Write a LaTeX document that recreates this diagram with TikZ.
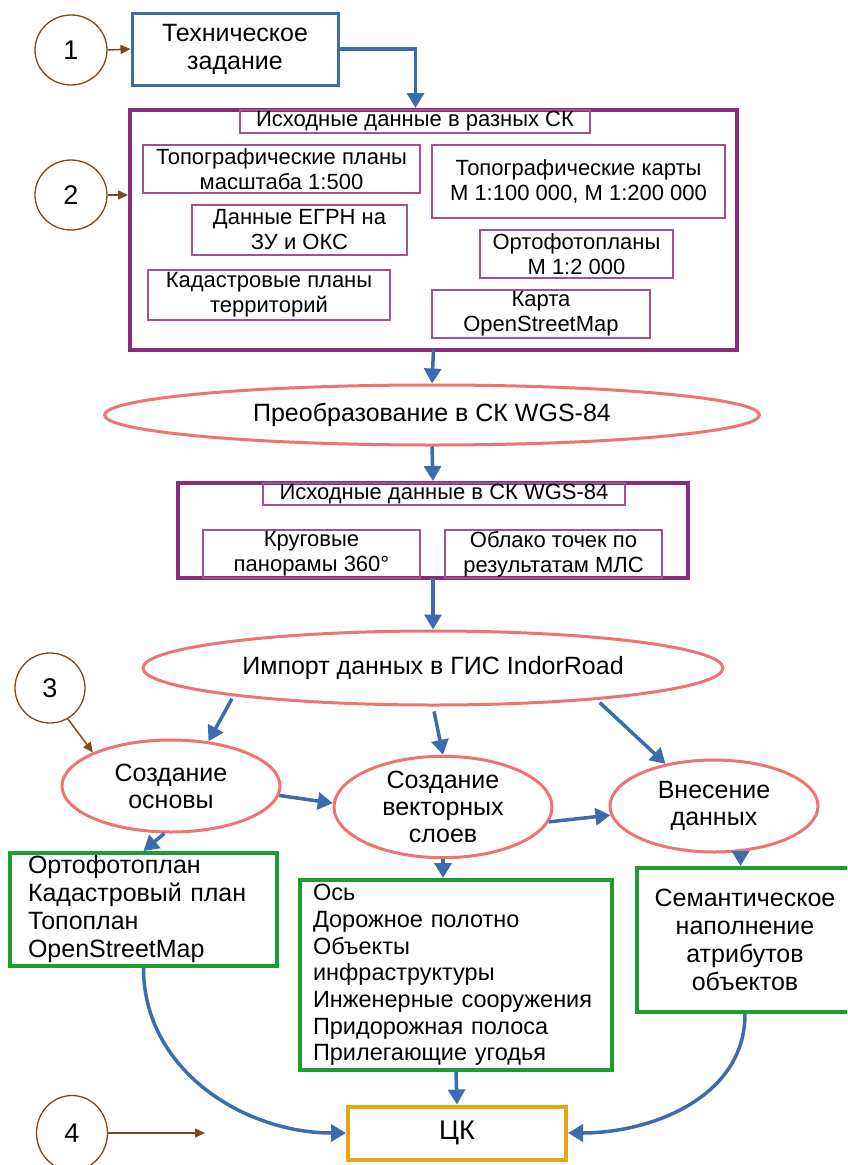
\documentclass[tikz,border=0pt]{standalone}
\usepackage{fontspec}
\setmainfont{Liberation Sans}
\usetikzlibrary{arrows.meta,shapes.geometric,calc}
\definecolor{cblue}{RGB}{60,107,175}
\definecolor{cpurple}{RGB}{139,43,124}
\definecolor{cipurple}{RGB}{165,80,143}
\definecolor{cpink}{RGB}{240,115,115}
\definecolor{cgreen}{RGB}{30,155,53}
\definecolor{corange}{RGB}{232,163,23}
\definecolor{cbrown}{RGB}{123,74,30}
\tikzset{
  bx/.style={rectangle,inner sep=0pt,align=center},
  bluebox/.style={bx,draw=cblue,line width=3pt,font=\fontsize{25}{28}\selectfont},
  outerbox/.style={bx,draw=cpurple,line width=4pt},
  innerbox/.style={bx,draw=cipurple,line width=1.5pt,font=\fontsize{22}{25}\selectfont},
  ell/.style={ellipse,draw=cpink,line width=3pt,inner sep=0pt,align=center,font=\fontsize{25}{27}\selectfont},
  greenbox/.style={bx,draw=cgreen,line width=4pt,font=\fontsize{25}{28}\selectfont},
  ckbox/.style={bx,draw=corange,line width=4pt,font=\fontsize{27}{28}\selectfont},
  numc/.style={ellipse,draw=cbrown,line width=1.3pt,inner sep=0pt,font=\fontsize{27}{28}\selectfont},
  barrow/.style={draw=cblue,line width=3.5pt,-{Triangle[length=15pt,width=17pt]}},
  brarrow/.style={draw=cbrown,line width=1.5pt,-{Triangle[length=10pt,width=9pt]}},
}
\begin{document}
\begin{tikzpicture}[x=1pt,y=-1pt]
\useasboundingbox (0,0) rectangle (847,1165);
\clip (0,0) rectangle (847,1165);
% step 1
\node[numc,minimum width=72pt,minimum height=70pt] (c1) at (71,50) {1};
\node[bluebox,minimum width=206pt,minimum height=72pt] (tz) at (235,49) {Техническое\\задание};
% block 1
\node[outerbox,minimum width=607pt,minimum height=240pt] (big) at (433.5,230) {};
\node[innerbox,minimum width=350pt,minimum height=23pt] (t1) at (415,121.5) {Исходные данные в разных СК};
\node[innerbox,minimum width=277pt,minimum height=48pt] (tp) at (281.5,169) {Топографические планы\\масштаба 1:500};
\node[innerbox,minimum width=293pt,minimum height=73pt] (tk) at (578.5,181.5) {Топографические карты\\М 1:100 000, М 1:200 000};
\node[innerbox,minimum width=215pt,minimum height=50pt] (egrn) at (299.5,230) {Данные ЕГРН на\\ЗУ и ОКС};
\node[innerbox,minimum width=193pt,minimum height=48pt] (orto) at (576.5,254) {Ортофотопланы\\М 1:2 000};
\node[innerbox,minimum width=242pt,minimum height=50pt] (kad) at (269,295) {Кадастровые планы\\территорий};
\node[innerbox,minimum width=218pt,minimum height=48pt] (osm) at (541,314) {Карта\\OpenStreetMap};
\node[numc,minimum width=72pt,minimum height=70pt] (c2) at (71,195) {2};
% conversion
\node[ell,minimum width=655pt,minimum height=60pt] (conv) at (432,415) {Преобразование в СК WGS-84};
% block 2
\node[outerbox,minimum width=510pt,minimum height=95pt] (big2) at (433,530.5) {};
\node[innerbox,minimum width=362pt,minimum height=22pt] (t2) at (444,494) {Исходные данные в СК WGS-84};
\node[innerbox,minimum width=217pt,minimum height=48pt] (pan) at (311.5,554) {Круговые\\панорамы 360°};
\node[innerbox,minimum width=217pt,minimum height=48pt] (obl) at (553.5,554) {Облако точек по\\результатам МЛС};
% import
\node[ell,minimum width=580pt,minimum height=74pt] (imp) at (433,668) {Импорт данных в ГИС IndorRoad};
\node[numc,minimum width=70pt,minimum height=70pt] (c3) at (50,688) {3};
\node[ell,minimum width=218pt,minimum height=92pt] (base) at (171,786) {Создание\\основы};
\node[ell,minimum width=218pt,minimum height=96pt] (vec) at (443,807) {Создание\\векторных\\слоев};
\node[ell,minimum width=208pt,minimum height=92pt] (ins) at (714,806) {Внесение\\данных};
% green boxes
\node[greenbox,minimum width=267pt,minimum height=113pt,align=left,text width=231pt] (g1) at (143.5,909.5) {Ортофотоплан\\Кадастровый план\\Топоплан\\OpenStreetMap};
\node[greenbox,minimum width=312pt,minimum height=190pt,align=left,text width=286pt,font=\fontsize{23.5}{26.7}\selectfont] (g2) at (456,975) {Ось\\Дорожное полотно\\Объекты\\инфраструктуры\\Инженерные сооружения\\Придорожная полоса\\Прилегающие угодья};
\node[greenbox,minimum width=216pt,minimum height=144pt] (g3) at (745,940) {Семантическое\\наполнение\\атрибутов\\объектов};
\node[ckbox,minimum width=218pt,minimum height=53pt] (ck) at (457,1133) {ЦК};
\node[numc,minimum width=71pt,minimum height=75pt] (c4) at (72,1133) {4};
\coordinate (c4end) at (205,1133);
% blue connectors
\draw[barrow] (tz.east) -| ([xshift=-18pt]big.north);
\draw[barrow] ([yshift=2pt]big.south) -- (conv.north);
\draw[barrow] (conv.south) -- (big2.north);
\draw[barrow] ([yshift=2pt]big2.south) -- (imp.north);
\draw[barrow,shorten <=3pt] (imp.188) -- (base.50);
\draw[barrow,shorten <=5pt] (imp.south) -- (vec.north);
\draw[barrow,shorten <=4pt] (imp.349) -- (ins.139);
\draw[barrow] (base.355) -- (vec.178);
\draw[barrow] (vec.352) -- (ins.185);
\draw[barrow] (base.262) -- (g1.north);
\draw[barrow] (vec.south) -- (vec.south |- g2.north);
\draw[barrow] (ins.300) -- (ins.300 |- g3.north);
\draw[barrow] (g2.south) -- (ck.north);
\draw[barrow] (g1.south) to[out=-90,in=180] (ck.west);
\draw[barrow] (g3.south) to[out=-90,in=0] (ck.east);
% brown connectors
\draw[brarrow] (c1.east) -- (tz.west);
\draw[brarrow] (c2.east) -- (c2.east -| big.west);
\draw[brarrow] (c3.300) -- (base.north west);
\draw[brarrow] (c4.east) -- (c4end);
\end{tikzpicture}
\end{document}
